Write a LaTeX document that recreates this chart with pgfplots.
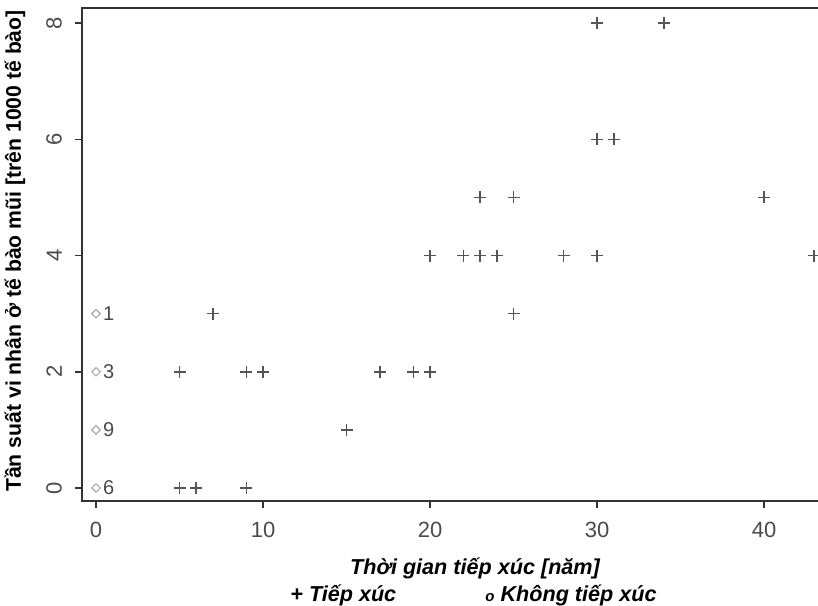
\documentclass[border=0pt]{standalone}
\usepackage{pgfplots}
\pgfplotsset{compat=1.18}
\usepackage{fontspec}
\setmainfont{Liberation Sans}
\definecolor{ptcol}{HTML}{555555}
\definecolor{tickcol}{HTML}{4A4A4A}
\definecolor{diacol}{HTML}{A0A0A0}
\begin{document}
\begin{tikzpicture}
\useasboundingbox (-41pt,-52pt) rectangle (368pt,250.5pt);
\begin{axis}[at={(0,0)}, anchor=south west, scale only axis,
  width=370pt, height=246.5pt,
  xmin=-0.84, xmax=43.47, ymin=-0.224, ymax=8.26,
  xtick={0,10,20,30,40}, ytick={0,2,4,6,8},
  xtick pos=bottom, ytick pos=left, tick align=outside,
  major tick length=3.5pt,
  tick style={color=black!80, line width=0.8pt},
  axis line style={color=black!80, line width=1pt},
  /pgf/number format/assume math mode=true,
  xticklabel style={font=\fontsize{11}{12}\selectfont, text=tickcol, yshift=-3.5pt},
  yticklabel style={font=\fontsize{11}{12}\selectfont, text=tickcol, rotate=90, anchor=south, yshift=3pt},
  clip=true,
]
\addplot[only marks, mark=+, mark size=3pt, color=ptcol, line width=0.75pt] table {
x y
5 2
5 0
6 0
7 3
9 2
10 2
9 0
15 1
17 2
19 2
20 2
20 4
22 4
23 4
24 4
23 5
25 5
25 3
28 4
30 4
30 6
31 6
30 8
34 8
40 5
43 4
};
\addplot[only marks, mark=square, mark size=1.5pt, mark options={rotate=45}, color=diacol, line width=0.5pt,
  nodes near coords, point meta=explicit symbolic,
  every node near coord/.style={anchor=west, xshift=0pt, text=tickcol, font=\fontsize{10}{12}\selectfont}]
  table[meta=lab] {
x y lab
0 0 6
0 1 9
0 2 3
0 3 1
};
\end{axis}
\node[rotate=90, font=\bfseries\fontsize{10.6}{12}\selectfont] at (-33.5pt,125pt) {Tần suất vi nhân ở tế bào mũi [trên 1000 tế bào]};
\node[font=\bfseries\itshape\fontsize{10.8}{13}\selectfont] at (196.5pt,-33.5pt) {Thời gian tiếp xúc [năm]};
\node[anchor=west, inner sep=0pt, font=\bfseries\itshape\fontsize{10.8}{13}\selectfont] at (104pt,-47pt) {+ Tiếp xúc};
\node[anchor=west, inner sep=0pt, font=\bfseries\itshape\fontsize{10.8}{13}\selectfont] at (201.5pt,-47pt) {{\fontsize{7.5}{9}\selectfont o} Không tiếp xúc};
\end{tikzpicture}
\end{document}
